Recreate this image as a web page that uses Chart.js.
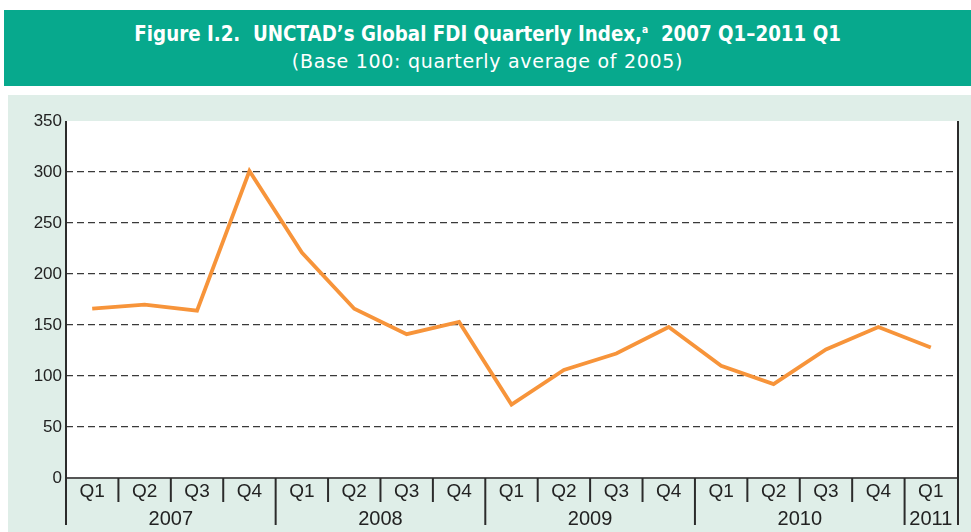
<!DOCTYPE html>
<html>
<head>
<meta charset="utf-8">
<script src="https://cdn.jsdelivr.net/npm/chart.js@4"></script>
<style>
  body { margin: 0; width: 971px; height: 532px; background: #fff; position: relative; overflow: hidden; }
  #band { position: absolute; left: 4px; top: 10px; width: 967px; height: 76px; background: #07a98d; color: #fff; text-align: center; }
  #titulo { display: inline-block; font-family: "DejaVu Sans", sans-serif; font-weight: bold; font-size: 22px; margin-top: 11px; transform: scaleX(0.83); white-space: nowrap; }
  #titulo sup { font-size: 11px; }
  #subtitulo { font-family: "DejaVu Sans", sans-serif; font-size: 19px; letter-spacing: 0.7px; margin-top: 4px; }
  #panel { position: absolute; left: 8px; top: 95px; width: 963px; height: 437px; background: #dfeee8; }
  #caja { position: absolute; left: 0; top: 0; width: 971px; height: 532px; }
</style>
</head>
<body>
<div id="band">
  <div id="titulo">Figure I.2.&nbsp; UNCTAD’s Global FDI Quarterly Index,<sup>a</sup>&nbsp; 2007 Q1–2011 Q1</div>
  <div id="subtitulo">(Base 100: quarterly average of 2005)</div>
</div>
<div id="panel"></div>
<div id="caja"><canvas id="grafico" width="971" height="532"></canvas></div>
<script>
// datos
let trimestres = ["Q1","Q2","Q3","Q4","Q1","Q2","Q3","Q4","Q1","Q2","Q3","Q4","Q1","Q2","Q3","Q4","Q1"];
let anios = ["2007","2008","2009","2010","2011"];
let trimestresPorAnio = [4, 4, 4, 4, 1];
let indice = [166, 170, 164, 301, 221, 166, 141, 153, 72, 106, 122, 148, 110, 92, 126, 148, 128];
let marcasY = [0, 50, 100, 150, 200, 250, 300, 350];

const fuente = '"Liberation Sans", Arial, sans-serif';

// fondo blanco, separadores y anios bajo el eje
const decorado = {
  id: "decorado",
  beforeDraw(chart) {
    let ctx = chart.ctx, a = chart.chartArea;
    ctx.save();
    ctx.fillStyle = "#fff";
    ctx.fillRect(a.left, a.top, a.right - a.left, a.bottom - a.top);
    ctx.restore();
  },
  afterDraw(chart) {
    let ctx = chart.ctx, a = chart.chartArea;
    let x = chart.scales.x;
    let paso = x.getPixelForValue(1) - x.getPixelForValue(0);
    ctx.save();
    ctx.strokeStyle = "#2b2b2b";
    ctx.lineWidth = 2;
    // ejes verticales
    ctx.beginPath();
    ctx.moveTo(a.left, a.top); ctx.lineTo(a.left, 525);
    ctx.moveTo(a.right + 1, a.top); ctx.lineTo(a.right + 1, 525);
    ctx.stroke();
    // separadores de trimestre y de anio
    let limites = [0];
    trimestresPorAnio.forEach(n => limites.push(limites[limites.length - 1] + n));
    for (let k = 1; k < trimestres.length; k++) {
      let px = x.getPixelForValue(k) - paso / 2;
      let largo = limites.includes(k);
      ctx.beginPath();
      ctx.moveTo(px, a.bottom);
      ctx.lineTo(px, largo ? 525 : 502);
      ctx.stroke();
    }
    // etiquetas de anio
    ctx.fillStyle = "#222";
    ctx.font = "20px " + fuente;
    ctx.textAlign = "center";
    ctx.textBaseline = "middle";
    anios.forEach((anio, i) => {
      let x0 = x.getPixelForValue(limites[i]) - paso / 2;
      let x1 = x.getPixelForValue(limites[i + 1] - 1) + paso / 2;
      ctx.fillText(anio, (x0 + x1) / 2, 519);
    });
    ctx.restore();
  }
};

new Chart(document.getElementById("grafico"), {
  type: "line",
  data: {
    labels: trimestres,
    datasets: [{
      data: indice,
      borderColor: "#f7943a",
      borderWidth: 3.8,
      pointRadius: 0,
      tension: 0,
      fill: false
    }]
  },
  options: {
    responsive: false,
    animation: false,
    devicePixelRatio: 1,
    layout: { padding: { left: 0, right: 14, top: 121, bottom: 0 } },
    plugins: { legend: { display: false }, tooltip: { enabled: false } },
    scales: {
      x: {
        offset: true,
        grid: { display: false, drawTicks: false, offset: true },
        border: { display: true, color: "#555", width: 2 },
        ticks: { color: "#222", font: { family: fuente, size: 19 }, padding: 2, maxRotation: 0, autoSkip: false },
        afterFit(s) { s.height = 54; }
      },
      y: {
        min: 0, max: 350,
        afterBuildTicks(s) { s.ticks = marcasY.map(v => ({ value: v })); },
        grid: {
          drawTicks: false,
          color: c => (c.tick.value === 0 || c.tick.value === 350) ? "rgba(0,0,0,0)" : "#3a3a3a",
          lineWidth: 1.2
        },
        border: { display: false, dash: [7, 4] },
        ticks: { color: "#222", font: { family: fuente, size: 17 }, padding: 4 },
        afterFit(s) { s.width = 66; }
      }
    }
  },
  plugins: [decorado]
});
</script>
</body>
</html>
